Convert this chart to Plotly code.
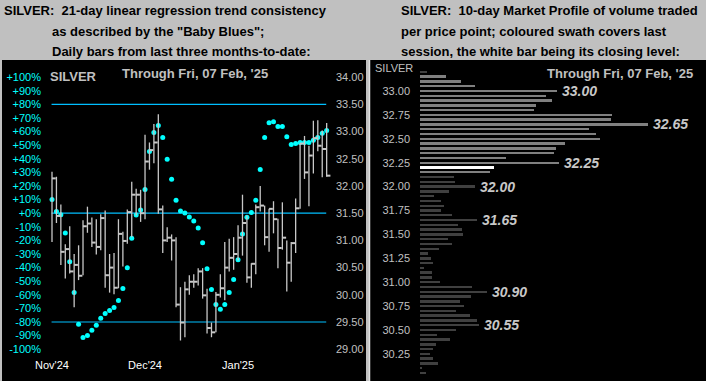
import plotly.graph_objects as go

W, H = 706, 381

# ---------------- Left panel data (daily bars, Nov'24 .. 07 Feb '25) ----------------
bar_high = [32.26, 32.17, 31.66, 30.93, 31.26, 30.75, 30.91, 31.37, 31.62, 31.42,
            31.39, 31.48, 31.55, 30.75, 30.77, 31.39, 31.16, 31.57, 32.08, 31.95,
            31.93, 32.94, 32.80, 33.14, 33.32, 31.64, 31.24, 31.11, 31.06, 30.14,
            30.24, 30.36, 30.38, 30.49, 30.49, 30.11, 29.49, 30.05, 30.38, 30.97,
            31.03, 31.06, 31.28, 31.84, 31.46, 30.58, 31.66, 32.00, 31.64, 31.58,
            31.72, 31.40, 31.70, 31.00, 30.97, 31.77, 32.78, 32.92, 32.74, 33.20,
            33.21, 33.02, 33.16]
bar_low = [30.97, 31.32, 30.55, 30.30, 30.39, 29.77, 30.27, 30.36, 31.14, 30.88,
           30.74, 30.82, 30.13, 30.04, 30.01, 30.12, 30.52, 30.94, 31.06, 31.46,
           31.34, 31.39, 32.30, 32.42, 31.49, 30.77, 30.97, 30.63, 29.77, 29.16,
           29.22, 30.00, 30.13, 30.17, 29.93, 29.29, 29.22, 29.31, 29.95, 29.90,
           30.43, 30.46, 30.63, 30.72, 30.22, 30.13, 30.38, 31.53, 30.91, 30.79,
           31.13, 30.49, 30.83, 30.06, 30.24, 30.77, 31.58, 32.13, 31.63, 32.23,
           32.64, 32.16, 32.17]
bar_close = [32.14, 31.45, 30.79, 30.84, 30.43, 30.55, 30.35, 31.26, 31.31, 30.96,
             30.88, 31.41, 30.36, 30.50, 30.13, 31.12, 30.99, 31.52, 31.84, 31.84,
             31.50, 32.45, 32.66, 32.80, 31.57, 31.00, 31.05, 31.00, 29.82, 29.49,
             30.10, 30.24, 30.24, 30.43, 29.99, 29.39, 29.31, 30.00, 30.12, 30.50,
             30.68, 30.75, 31.05, 31.32, 30.32, 30.57, 31.61, 31.64, 31.06, 31.58,
             31.39, 30.86, 31.05, 30.59, 30.95, 31.59, 32.78, 32.25, 32.56, 32.88,
             32.74, 32.68, 32.19]
baby_blues = [10.1, 1.3, -1.1, -14.5, -35.7, -58.3, -81.7, -91.4, -90.0, -86.1,
              -82.4, -77.3, -73.7, -71.5, -69.3, -64.2, -55.4, -40.1, -18.4, -1.4,
              2.3, 17.4, 45.4, 59.3, 64.4, 55.6, 39.6, 25.0, 9.6, 1.6,
              0.1, -2.8, -5.7, -10.8, -21.8, -40.8, -56.1, -67.1, -70.7, -67.1,
              -58.3, -48.8, -34.2, -15.2, -3.0, 0.6, 9.6, 32.2, 55.6, 66.6,
              67.3, 63.7, 63.7, 56.3, 50.5, 51.2, 52.0, 52.0, 52.0, 53.7,
              55.6, 58.8, 60.8]
month_labels = ["Nov'24", "Dec'24", "Jan'25"]
month_index = [0, 21, 42]
pct_ticks = list(range(-100, 101, 10))
pct_ticktext = [("+%d%%" % v) if v >= 0 else ("%d%%" % v) for v in pct_ticks]
price_ticks = [29.0, 29.5, 30.0, 30.5, 31.0, 31.5, 32.0, 32.5, 33.0, 33.5, 34.0]
ref_levels_pct = [80, 0, -80]

# ---------------- Right panel data (10-day market profile) ----------------
profile_prices = [33.20, 33.15, 33.10, 33.05, 33.00, 32.95, 32.90, 32.85, 32.80, 32.75,
                  32.70, 32.65, 32.60, 32.55, 32.50, 32.45, 32.40, 32.35, 32.30, 32.25,
                  32.20, 32.15, 32.10, 32.05, 32.00, 31.95, 31.90, 31.85, 31.80, 31.75,
                  31.70, 31.65, 31.60, 31.55, 31.50, 31.45, 31.40, 31.35, 31.30, 31.25,
                  31.20, 31.15, 31.10, 31.05, 31.00, 30.95, 30.90, 30.85, 30.80, 30.75,
                  30.70, 30.65, 30.60, 30.55, 30.50, 30.45, 30.40, 30.35, 30.30, 30.25,
                  30.20, 30.15, 30.10, 30.05]
profile_volume = [7, 26, 41, 55, 137, 126, 132, 116, 114, 192,
                  191, 228, 169, 176, 180, 145, 136, 134, 86, 139,
                  74, 70, 34, 35, 55, 29, 14, 21, 24, 21,
                  32, 57, 38, 42, 43, 28, 32, 19, 8, 11,
                  13, 4, 12, 12, 20, 52, 67, 51, 40, 44,
                  36, 50, 57, 59, 36, 17, 30, 16, 13, 10,
                  13, 18, 2, 6]
profile_labels = [33.00, 32.65, 32.25, 32.00, 31.65, 30.90, 30.55]
profile_ticks = [30.25, 30.50, 30.75, 31.00, 31.25, 31.50, 31.75, 32.00, 32.25, 32.50, 32.75, 33.00]
session_high, session_low, session_close = 33.16, 32.17, 32.19

left_title = ["SILVER:\u00a0 21-day linear regression trend consistency",
              "as described by the \"Baby Blues\";",
              "Daily bars from last three months-to-date:"]
right_title = ["SILVER:\u00a0 10-day Market Profile of volume traded",
               "per price point; coloured swath covers last",
               "session, the white bar being its closing level:"]
through_text = "Through Fri, 07 Feb, '25"

# ---------------- styling ----------------
SANS = "Liberation Sans, Arial, sans-serif"
GREY_BG = "#c0c0c0"
CYAN = "#00ffff"
LINE_BLUE = "#00bfff"
BAR_GREY = "#c8c8c8"


def px(x):
    return x / W


def py(y):
    return 1 - y / H


fig = go.Figure()

# OHLC-style bars (high-low line + close tick on the right)
hx, hy, cx, cy = [], [], [], []
for i, (h, l, c) in enumerate(zip(bar_high, bar_low, bar_close)):
    hx += [i, i, None]
    hy += [l, h, None]
    cx += [i, i + 0.85, None]
    cy += [c, c, None]
fig.add_trace(go.Scatter(x=hx, y=hy, mode="lines", line=dict(color=BAR_GREY, width=1.3),
                         xaxis="x", yaxis="y2", hoverinfo="skip", showlegend=False))
fig.add_trace(go.Scatter(x=cx, y=cy, mode="lines", line=dict(color=BAR_GREY, width=2),
                         xaxis="x", yaxis="y2", hoverinfo="skip", showlegend=False))
fig.add_trace(go.Scatter(x=list(range(len(baby_blues))), y=baby_blues, mode="markers",
                         marker=dict(color=CYAN, size=5, symbol="circle"),
                         xaxis="x", yaxis="y", showlegend=False))


# Market profile bars
def level_color(p):
    if abs(p - round(session_close / 0.05) * 0.05) < 1e-6:
        return "#ffffff"
    if session_low - 0.02 <= p <= session_high + 0.001:
        return "#808080"
    return "#404040"


colors = [level_color(p) for p in profile_prices]
widths = [0.032 if c == "#ffffff" else 0.025 for c in colors]
fig.add_trace(go.Bar(x=profile_volume, y=profile_prices, orientation="h",
                     marker=dict(color=colors, line=dict(width=0)), width=widths,
                     xaxis="x2", yaxis="y3", showlegend=False))

shapes = [
    dict(type="rect", xref="paper", yref="paper", x0=px(2), x1=px(366), y0=py(381), y1=py(60),
         fillcolor="black", line=dict(width=0), layer="below"),
    dict(type="rect", xref="paper", yref="paper", x0=px(369), x1=px(706), y0=py(381), y1=py(60),
         fillcolor="black", line=dict(width=0), layer="below"),
    dict(type="line", xref="paper", yref="paper", x0=px(369.5), x1=px(369.5), y0=py(381), y1=py(60),
         line=dict(color="#e0e0e0", width=1.5)),
]
for lv in ref_levels_pct:
    shapes.append(dict(type="line", xref="x", yref="y", x0=-0.1, x1=61.9, y0=lv, y1=lv,
                       line=dict(color=LINE_BLUE, width=1.2), layer="below"))

TITLE_FONT = dict(family=SANS, size=13, color="black", weight="bold")
title_y = [10.8, 31.5, 51.2]
annotations = []
for k, (t, xs) in enumerate(zip(left_title, [1.5, 50, 50])):
    annotations.append(dict(text=t, x=px(xs), y=py(title_y[k]), xref="paper", yref="paper",
                            xanchor="left", yanchor="middle", showarrow=False, font=TITLE_FONT))
for k, t in enumerate(right_title):
    annotations.append(dict(text=t, x=px(399), y=py(title_y[k]), xref="paper", yref="paper",
                            xanchor="left", yanchor="middle", showarrow=False, font=TITLE_FONT))
annotations.append(dict(text="SILVER", x=px(48), y=py(76.5), xref="paper", yref="paper",
                        xanchor="left", yanchor="middle", showarrow=False,
                        font=dict(family=SANS, size=13, color="#c0c0c0", weight="bold")))
annotations.append(dict(text=through_text, x=px(120), y=py(73.3), xref="paper", yref="paper",
                        xanchor="left", yanchor="middle", showarrow=False,
                        font=dict(family=SANS, size=13, color="#c0c0c0", weight="bold")))
annotations.append(dict(text="SILVER", x=px(373), y=py(67.7), xref="paper", yref="paper",
                        xanchor="left", yanchor="middle", showarrow=False,
                        font=dict(family=SANS, size=11, color="#c0c0c0")))
annotations.append(dict(text=through_text, x=px(545), y=py(73.3), xref="paper", yref="paper",
                        xanchor="left", yanchor="middle", showarrow=False,
                        font=dict(family=SANS, size=13, color="#c0c0c0", weight="bold")))
for lv in profile_labels:
    vol = profile_volume[[round(p, 2) for p in profile_prices].index(round(lv, 2))]
    annotations.append(dict(text="%.2f" % lv, x=vol, y=lv, xref="x2", yref="y3",
                            xanchor="left", yanchor="middle", xshift=3, showarrow=False,
                            font=dict(family=SANS, size=14, color="#c8c8c8", weight="bold",
                                      style="italic")))

yd_left = [py(355), py(62)]
fig.update_layout(
    width=W, height=H, margin=dict(l=0, r=0, t=0, b=0, autoexpand=False),
    paper_bgcolor=GREY_BG, plot_bgcolor="rgba(0,0,0,0)",
    showlegend=False, bargap=0,
    shapes=shapes, annotations=annotations,
    xaxis=dict(domain=[px(48), px(331)], range=[-0.903, 62.98], tickvals=month_index,
               ticktext=month_labels, tickfont=dict(family=SANS, size=11, color="white"),
               showgrid=False, zeroline=False, showline=False, ticks="", anchor="y",
               ticklabelstandoff=2, automargin=False),
    yaxis=dict(domain=yd_left, range=[-104.26, 111.18], tickvals=pct_ticks, ticktext=pct_ticktext,
               tickfont=dict(family=SANS, size=11, color=CYAN), showgrid=False, zeroline=False,
               showline=False, ticks="", anchor="x", ticklabelstandoff=6, automargin=False),
    yaxis2=dict(overlaying="y", side="right", anchor="x", range=[28.8934, 34.2794],
                tickvals=price_ticks, ticktext=["%.2f" % v for v in price_ticks],
                tickfont=dict(family=SANS, size=11, color="#c0c0c0"), showgrid=False,
                zeroline=False, showline=False, ticks="", ticklabelstandoff=4, automargin=False),
    xaxis2=dict(domain=[px(420), px(700)], range=[0, 280], visible=False, anchor="y3",
                automargin=False),
    yaxis3=dict(domain=[py(378), py(62)], range=[29.998, 33.3033], anchor="x2",
                tickvals=profile_ticks, ticktext=["%.2f" % v for v in profile_ticks],
                tickfont=dict(family=SANS, size=11, color="#c0c0c0"), showgrid=False,
                zeroline=False, showline=False, ticks="", ticklabelstandoff=9, automargin=False),
)

fig.write_html("out.html", config={"displayModeBar": False},
               post_script="document.body.style.margin='0';document.documentElement.style.margin='0';"
                           "document.body.style.overflow='hidden';")
